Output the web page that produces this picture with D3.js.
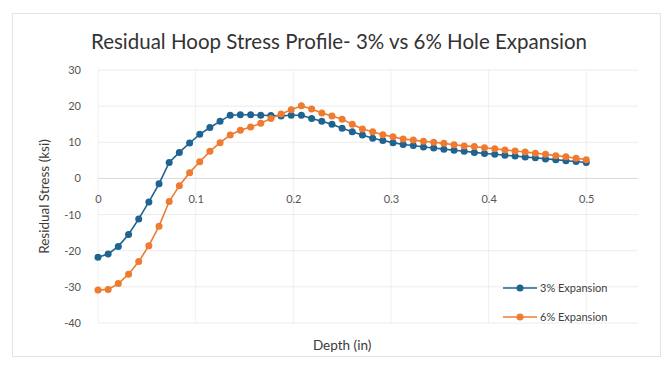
<!DOCTYPE html>
<html>
<head>
<meta charset="utf-8">
<script src="https://cdn.jsdelivr.net/npm/d3@7"></script>
<style>
  body { margin: 0; background: #fff; }
  text { font-family: Lato, "Open Sans", sans-serif; }
</style>
</head>
<body>
<div id="chart"></div>
<script>
// depth values (in) - 49 evenly spaced samples
const depths = [0, 0.0104, 0.0208, 0.0313, 0.0417, 0.0521, 0.0625, 0.0729, 0.0833, 0.0938,
  0.1042, 0.1146, 0.125, 0.1354, 0.1458, 0.1563, 0.1667, 0.1771, 0.1875, 0.1979,
  0.2083, 0.2188, 0.2292, 0.2396, 0.25, 0.2604, 0.2708, 0.2813, 0.2917, 0.3021,
  0.3125, 0.3229, 0.3333, 0.3438, 0.3542, 0.3646, 0.375, 0.3854, 0.3958, 0.4063,
  0.4167, 0.4271, 0.4375, 0.4479, 0.4583, 0.4688, 0.4792, 0.4896, 0.5];

const stress3 = [-21.8, -20.9, -18.8, -15.5, -11.2, -6.5, -1.5, 4.4, 7.2, 9.8,
  12.2, 14.1, 15.8, 17.5, 17.6, 17.6, 17.5, 17.4, 17.3, 17.5,
  17.5, 16.6, 15.8, 15.0, 13.9, 12.9, 12.0, 11.1, 10.5, 9.9,
  9.4, 9.1, 8.7, 8.4, 8.1, 7.8, 7.5, 7.2, 6.9, 6.7,
  6.4, 6.2, 5.9, 5.7, 5.4, 5.2, 4.9, 4.7, 4.4];

const stress6 = [-30.9, -30.7, -29.1, -26.5, -23.0, -18.6, -13.2, -6.4, -2.0, 1.6,
  4.6, 7.5, 9.9, 12.0, 13.3, 14.2, 15.3, 16.6, 17.8, 19.0,
  20.1, 19.2, 18.1, 17.3, 16.4, 15.0, 13.7, 12.9, 12.1, 11.5,
  10.9, 10.6, 10.3, 10.0, 9.7, 9.3, 9.0, 8.8, 8.5, 8.2,
  7.9, 7.6, 7.3, 7.0, 6.7, 6.3, 6.0, 5.6, 5.2];

const xTicks = [0, 0.1, 0.2, 0.3, 0.4, 0.5];
const yTicks = [30, 20, 10, 0, -10, -20, -30, -40];
const seriesNames = ["3% Expansion", "6% Expansion"];
const colors = ["#1f6390", "#ef7b30"];

const W = 671, H = 369;
const margin = {top: 70, right: 33, bottom: 46, left: 98},
    width = W - margin.left - margin.right,
    height = H - margin.top - margin.bottom;

const svg = d3.select("#chart")
  .append("svg")
    .attr("width", W)
    .attr("height", H);

// chart border
svg.append("rect")
  .attr("x", 12.5).attr("y", 13.5)
  .attr("width", 648).attr("height", 343)
  .attr("fill", "none")
  .attr("stroke", "#e3e3e3");

// title
svg.append("text")
  .attr("x", 339)
  .attr("y", 49)
  .attr("text-anchor", "middle")
  .attr("fill", "#333")
  .style("font-size", "20.5px")
  .text("Residual Hoop Stress Profile- 3% vs 6% Hole Expansion");

const g = svg.append("g")
  .attr("transform", `translate(${margin.left},${margin.top})`);

const x = d3.scaleLinear()
  .domain([0, 0.553])
  .range([0, width]);

const y = d3.scaleLinear()
  .domain([-40, 30])
  .range([height, 0]);

// gridlines
g.append("g")
  .selectAll("line")
  .data(xTicks)
  .join("line")
    .attr("x1", d => x(d)).attr("x2", d => x(d))
    .attr("y1", 0).attr("y2", height)
    .attr("stroke", "#f0f0f0");

g.append("g")
  .selectAll("line")
  .data(yTicks)
  .join("line")
    .attr("x1", 0).attr("x2", width)
    .attr("y1", d => y(d)).attr("y2", d => y(d))
    .attr("stroke", d => d === 0 ? "#dadada" : "#ececec");

// y axis labels (plain hyphen minus like the original)
const yAxis = d3.axisLeft(y).tickValues(yTicks).tickFormat(d => String(d)).tickSize(0).tickPadding(17);
g.append("g")
  .call(yAxis)
  .call(s => s.select(".domain").remove())
  .selectAll("text")
    .attr("fill", "#555")
    .style("font-size", "11px")
    .style("font-family", "Lato, 'Open Sans', sans-serif");

// x axis labels, sitting under the zero line
const xAxis = d3.axisBottom(x).tickValues(xTicks).tickFormat(d => String(d)).tickSize(0).tickPadding(17);
g.append("g")
  .attr("transform", `translate(0, ${y(0)})`)
  .call(xAxis)
  .call(s => s.select(".domain").remove())
  .selectAll("text")
    .attr("fill", "#555")
    .style("font-size", "11px")
    .style("font-family", "Lato, 'Open Sans', sans-serif");

// axis titles
svg.append("text")
  .attr("transform", `translate(49, ${margin.top + height / 2}) rotate(-90)`)
  .attr("text-anchor", "middle")
  .attr("fill", "#3a3a3a")
  .style("font-size", "13.5px")
  .text("Residual Stress (ksi)");

svg.append("text")
  .attr("x", margin.left + x(0.25))
  .attr("y", 350)
  .attr("text-anchor", "middle")
  .attr("fill", "#3a3a3a")
  .style("font-size", "13.5px")
  .text("Depth (in)");

// series
const series = [stress3, stress6];
const line = d3.line()
  .x((d, i) => x(depths[i]))
  .y(d => y(d));

series.forEach((vals, k) => {
  g.append("path")
    .datum(vals)
    .attr("fill", "none")
    .attr("stroke", colors[k])
    .attr("stroke-width", 1.6)
    .attr("d", line);
  g.append("g")
    .selectAll("circle")
    .data(vals)
    .join("circle")
      .attr("cx", (d, i) => x(depths[i]))
      .attr("cy", d => y(d))
      .attr("r", 3.5)
      .attr("fill", colors[k]);
});

// legend
const legend = svg.append("g")
  .selectAll("g")
  .data(seriesNames)
  .join("g")
    .attr("transform", (d, i) => `translate(503, ${288 + i * 29})`);

legend.append("line")
  .attr("x1", 0).attr("x2", 34)
  .attr("stroke", (d, i) => colors[i])
  .attr("stroke-width", 1.6);

legend.append("circle")
  .attr("cx", 17).attr("r", 3.5)
  .attr("fill", (d, i) => colors[i]);

legend.append("text")
  .attr("x", 37)
  .attr("dy", "0.35em")
  .attr("fill", "#404040")
  .style("font-size", "11px")
  .text(d => d);
</script>
</body>
</html>
